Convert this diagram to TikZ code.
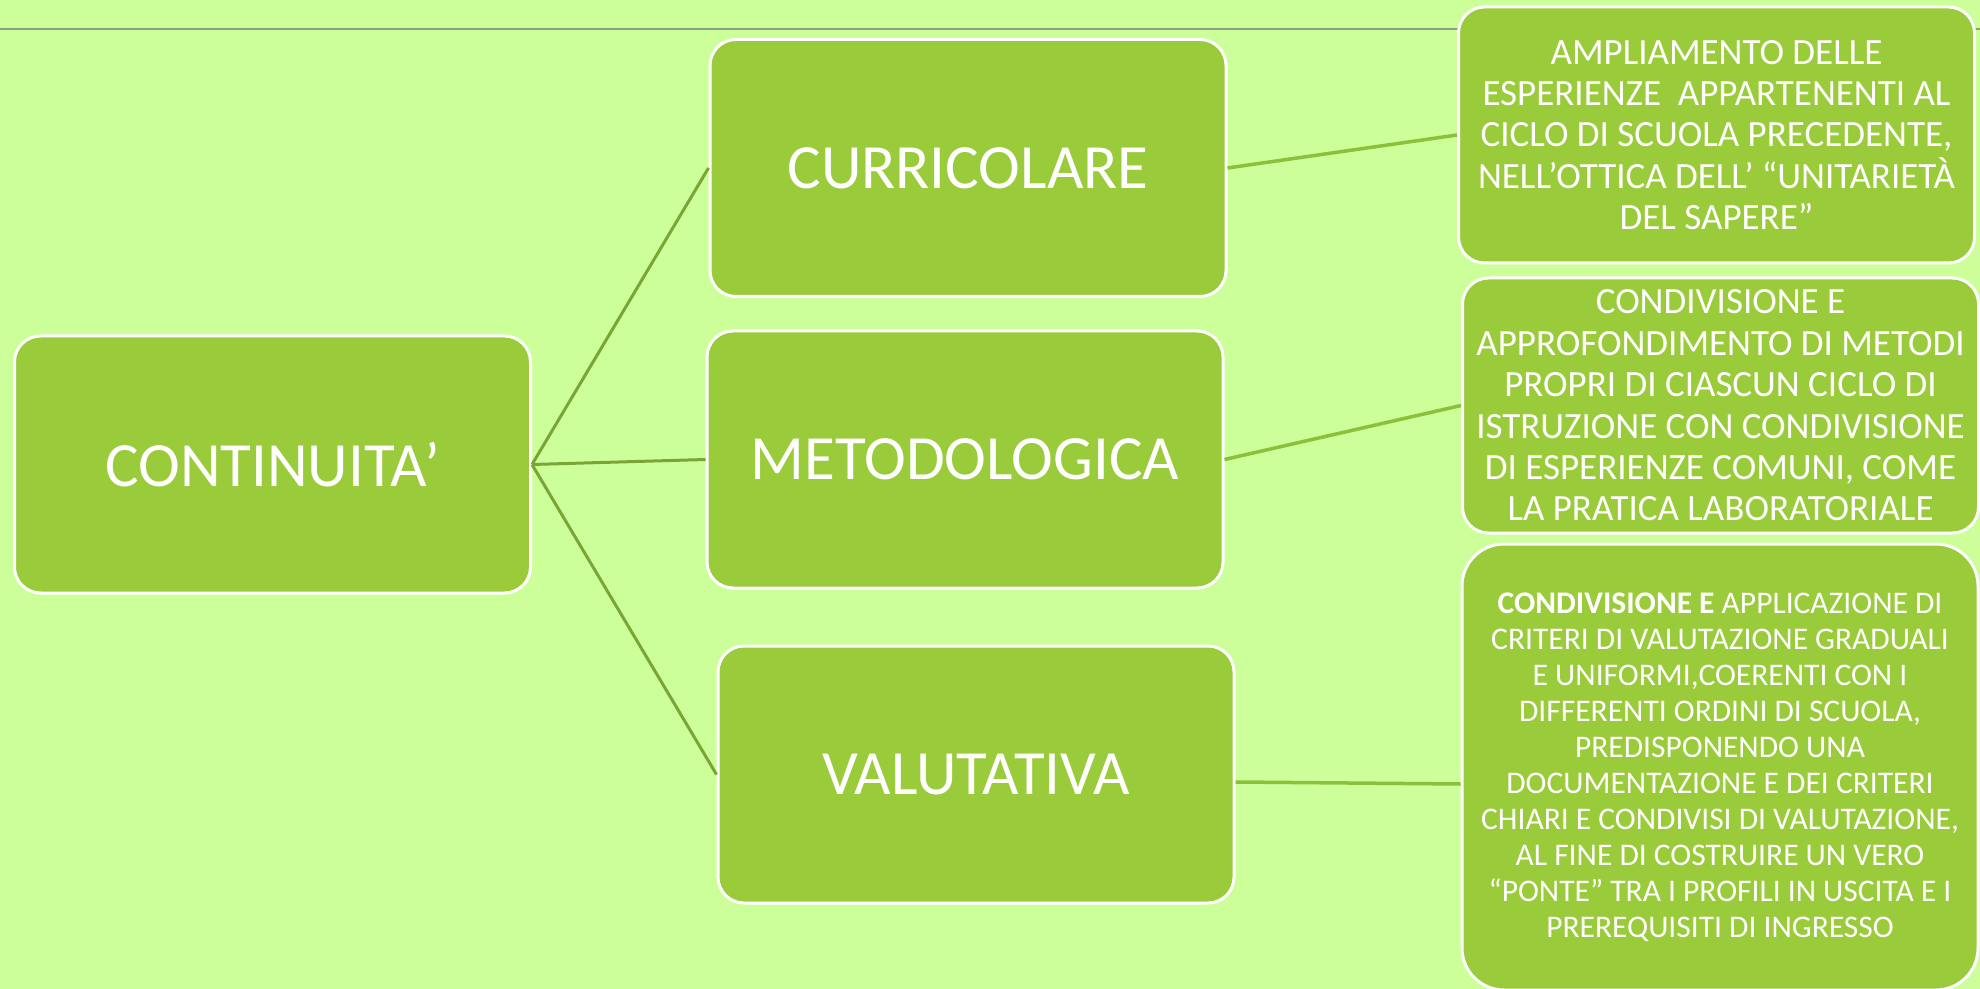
\documentclass[tikz,border=0pt]{standalone}
\usepackage{fontspec}
\setmainfont{Carlito}
\definecolor{bg}{HTML}{CCFF99}
\definecolor{boxfill}{HTML}{9ACB3A}
\definecolor{darkconn}{HTML}{7AA536}
\definecolor{lightconn}{HTML}{8CBF3A}
\definecolor{rulegray}{HTML}{8E9C80}
\tikzset{
  box/.style={rectangle, rounded corners=13pt, fill=boxfill, draw=white, line width=1.5pt,
    minimum width=258pt, minimum height=128.5pt, inner sep=0pt, text=white, align=center},
  big/.style={font=\fontsize{31.5}{36}\selectfont},
  small/.style={font=\fontsize{18.5}{20.7}\selectfont},
  tiny/.style={font=\fontsize{15.75}{18}\selectfont},
  conn/.style={draw=darkconn, line width=1.5pt},
  link/.style={draw=lightconn, line width=1.75pt},
}
\begin{document}
\begin{tikzpicture}[x=0.5pt,y=-0.5pt]
\fill[bg] (0,0) rectangle (1980,989);
\useasboundingbox (0,0) rectangle (1980,989);
\coordinate (ruleL) at (0,29);
\coordinate (ruleR) at (1980,29);
\draw[rulegray, line width=1pt] (ruleL) -- (ruleR);

\node[box,big] (root) at (272.5,464.5) {CONTINUITA’};
\node[box,big] (cur) at (968,168) {CURRICOLARE};
\node[box,big] (met) at (965,459.5) {METODOLOGICA};
\node[box,big] (val) at (976,774.5) {VALUTATIVA};

\node[box,small,minimum height=128pt] (t1) at (1716.5,135) {AMPLIAMENTO DELLE\\ESPERIENZE~ APPARTENENTI AL\\CICLO DI SCUOLA PRECEDENTE,\\NELL’OTTICA DELL’ “UNITARIETÀ\\DEL SAPERE”};
\node[box,small,minimum height=127.5pt] (t2) at (1720.5,405.5) {CONDIVISIONE E\\APPROFONDIMENTO DI METODI\\PROPRI DI CIASCUN CICLO DI\\ISTRUZIONE CON CONDIVISIONE\\DI ESPERIENZE COMUNI, COME\\LA PRATICA LABORATORIALE};
\node[box,tiny,rounded corners=21pt,minimum height=223pt] (t3) at (1720,767) {\textbf{CONDIVISIONE E} APPLICAZIONE DI\\CRITERI DI VALUTAZIONE GRADUALI\\E UNIFORMI,COERENTI CON I\\DIFFERENTI ORDINI DI SCUOLA,\\PREDISPONENDO UNA\\DOCUMENTAZIONE E DEI CRITERI\\CHIARI E CONDIVISI DI VALUTAZIONE,\\AL FINE DI COSTRUIRE UN VERO\\“PONTE” TRA I PROFILI IN USCITA E I\\PREREQUISITI DI INGRESSO};

\draw[conn] (root.east) -- (cur.west);
\draw[conn] (root.east) -- (met.west);
\draw[conn] (root.east) -- (val.west);
\draw[link] (cur.east) -- (t1.west);
\draw[link] (met.east) -- (t2.west);
\draw[link] ([yshift=-3.75pt]val.east) -- ([yshift=-8.5pt]t3.west);
\end{tikzpicture}
\end{document}
